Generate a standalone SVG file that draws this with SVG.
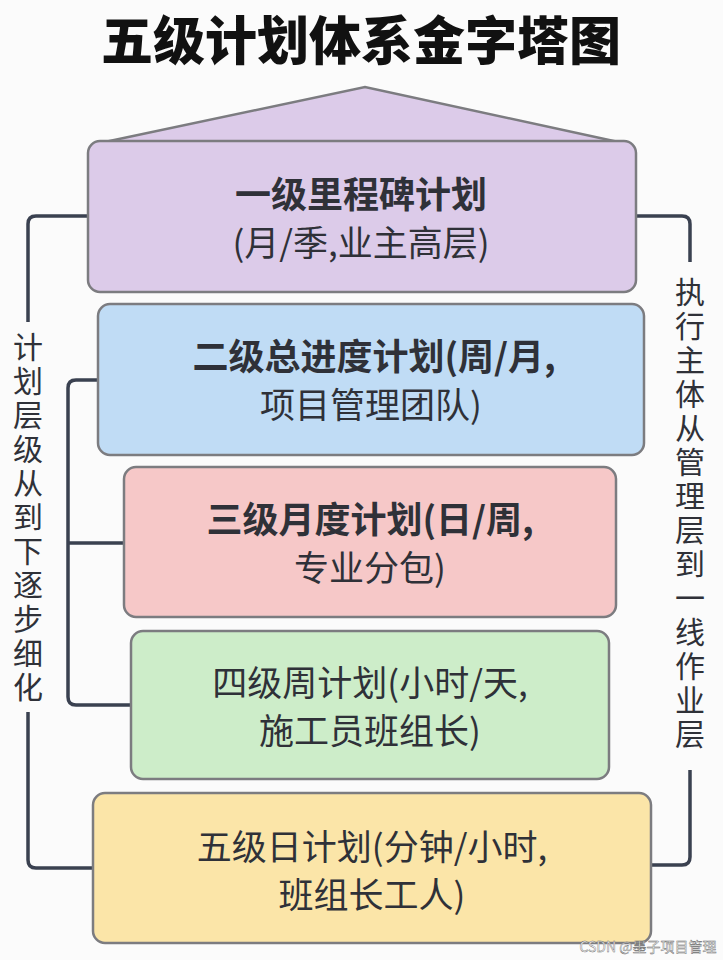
<svg xmlns="http://www.w3.org/2000/svg" width="723" height="960" viewBox="0 0 723 960">
<style>
text{font-family:"Noto Sans CJK SC","Noto Sans",sans-serif;fill:#2f3138;text-anchor:middle}
.t{font-size:52px;font-weight:900;fill:#111}
.b{font-size:36px;font-weight:700}
.n{font-size:35px}
.v{font-size:30px}
.box{stroke:#7c7c80;stroke-width:2.5}
.c{fill:none;stroke:#3a4150;stroke-width:3.5;stroke-linejoin:round}
</style>
<rect width="723" height="960" fill="#fbfbfb"/>
<text class="t" x="361" y="60">五级计划体系金字塔图</text>
<g id="connectors">
<path class="c" d="M88,216 H36 Q28,216 28,224 V322 M28,712 V860 Q28,868 36,868 H93"/>
<path class="c" d="M98,380 H76 Q68,380 68,388 V697 Q68,705 76,705 H131 M68,543 H124"/>
<path class="c" d="M636,216 H682 Q690,216 690,224 V262 M690,770 V857 Q690,865 682,865 H651"/>
</g>
<g id="left-label"><text class="v" x="28" y="358">计</text><text class="v" x="28" y="392">划</text><text class="v" x="28" y="426">层</text><text class="v" x="28" y="460">级</text><text class="v" x="28" y="494">从</text><text class="v" x="28" y="528">到</text><text class="v" x="28" y="562">下</text><text class="v" x="28" y="596">逐</text><text class="v" x="28" y="630">步</text><text class="v" x="28" y="664">细</text><text class="v" x="28" y="698">化</text></g>
<g id="right-label"><text class="v" x="690" y="303">执</text><text class="v" x="690" y="337">行</text><text class="v" x="690" y="371">主</text><text class="v" x="690" y="405">体</text><text class="v" x="690" y="439">从</text><text class="v" x="690" y="473">管</text><text class="v" x="690" y="507">理</text><text class="v" x="690" y="541">层</text><text class="v" x="690" y="575">到</text><text class="v" x="690" y="609">一</text><text class="v" x="690" y="643">线</text><text class="v" x="690" y="677">作</text><text class="v" x="690" y="711">业</text><text class="v" x="690" y="745">层</text></g>
<g id="level1">
<path class="box" fill="#dccbe9" d="M100,143 L365,87 L623,143 Z"/>
<rect class="box" x="88" y="141" width="548" height="151" rx="12" fill="#dccbe9"/>
<text class="b" x="361" y="208">一级里程碑计划</text>
<text class="n" x="361" y="256">(月/季,业主高层)</text>
</g>
<g id="level2">
<rect class="box" x="98" y="304" width="546" height="151" rx="12" fill="#c0dcf5"/>
<text class="b" x="374" y="370">二级总进度计划(周/月,</text>
<text class="n" x="371" y="418">项目管理团队)</text>
</g>
<g id="level3">
<rect class="box" x="124" y="467" width="492" height="150" rx="12" fill="#f6c8c8"/>
<text class="b" x="370" y="533">三级月度计划(日/周,</text>
<text class="n" x="370" y="581">专业分包)</text>
</g>
<g id="level4">
<rect class="box" x="131" y="631" width="478" height="148" rx="12" fill="#cdedc9"/>
<text class="n" x="370" y="696">四级周计划(小时/天,</text>
<text class="n" x="370" y="744">施工员班组长)</text>
</g>
<g id="level5">
<rect class="box" x="93" y="793" width="558" height="150" rx="12" fill="#fbe5a8"/>
<text class="n" x="372" y="860">五级日计划(分钟/小时,</text>
<text class="n" x="372" y="908">班组长工人)</text>
</g>
<text x="648" y="952" style="font-size:14px;fill:#fff;stroke:#666;stroke-width:0.4">CSDN @墨子项目管理</text>
</svg>
